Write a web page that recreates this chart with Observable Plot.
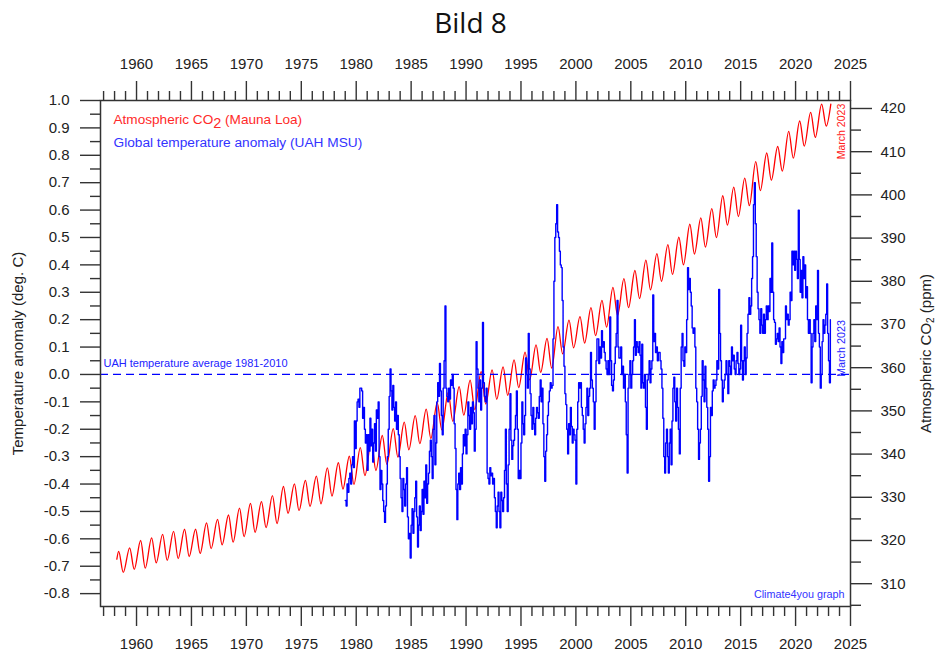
<!DOCTYPE html>
<html><head><meta charset="utf-8">
<script src="https://cdn.jsdelivr.net/npm/d3@7"></script>
<script src="https://cdn.jsdelivr.net/npm/@observablehq/plot@0.6"></script>
<style>
body{margin:0;background:#fff;font-family:"Liberation Sans",Arial,sans-serif;}
#wrap{position:relative;width:941px;height:653px;overflow:hidden;}
#title{position:absolute;left:0;top:0;width:941px;height:44px;text-align:center;font-family:"Open Sans",sans-serif;font-size:28px;line-height:44px;color:#111;}
#chart{position:absolute;left:0;top:40px;width:941px;height:613px;}
#chart svg{position:absolute;left:0;top:0;}
</style></head><body>
<div id="wrap"><div id="title">Bild 8</div><div id="chart"></div></div>
<script>
// ---------- data ----------
// x-axis tick labels (years)
const yearTicks = [1960,1965,1970,1975,1980,1985,1990,1995,2000,2005,2010,2015,2020,2025];
// left axis tick labels (deg C)
const tempTicks = [1.0,0.9,0.8,0.7,0.6,0.5,0.4,0.3,0.2,0.1,0.0,-0.1,-0.2,-0.3,-0.4,-0.5,-0.6,-0.7,-0.8];
// right axis tick labels (ppm)
const co2Ticks = [310,320,330,340,350,360,370,380,390,400,410,420];

// UAH MSU global temperature anomaly, monthly from Jan 1979 to Mar 2023
const tempStart = 1979;
const tempAnomaly = [
 -0.46,-0.48,-0.40,-0.43,-0.38,-0.36,-0.40,-0.33,-0.30,-0.34,-0.17,-0.27, // 1979
 -0.17,-0.10,-0.09,-0.12,-0.05,-0.05,-0.06,-0.16,-0.12,-0.20,-0.25,-0.22, // 1980
 -0.35,-0.22,-0.28,-0.16,-0.26,-0.20,-0.32,-0.25,-0.18,-0.28,-0.13,-0.16, // 1981
 -0.10,-0.30,-0.42,-0.35,-0.40,-0.46,-0.50,-0.54,-0.48,-0.40,-0.30,-0.20, // 1982
 -0.08, 0.02,-0.06,-0.13,-0.04,-0.12,-0.17,-0.10,-0.20,-0.15,-0.22,-0.30, // 1983
 -0.38,-0.45,-0.50,-0.38,-0.42,-0.48,-0.40,-0.34,-0.52,-0.60,-0.58,-0.67, // 1984
 -0.55,-0.49,-0.58,-0.50,-0.45,-0.39,-0.52,-0.63,-0.55,-0.48,-0.57,-0.50, // 1985
 -0.42,-0.51,-0.39,-0.45,-0.33,-0.47,-0.40,-0.36,-0.28,-0.24,-0.30,-0.38, // 1986
 -0.20,-0.15,-0.33,-0.25,-0.10,-0.03,-0.08, 0.04,-0.06,-0.15,-0.22,-0.05, // 1987
  0.05, 0.25,-0.05,-0.08,-0.10,-0.05,-0.09,-0.02,-0.04, 0.00,-0.05,-0.18, // 1988
 -0.27,-0.42,-0.53,-0.40,-0.36,-0.42,-0.34,-0.40,-0.29,-0.22,-0.26,-0.20, // 1989
 -0.29,-0.22,-0.10,-0.15,-0.20,-0.12,-0.18,-0.10,-0.14,-0.28,-0.20, 0.12, // 1990
  0.02,-0.05,-0.10,-0.02,-0.13,-0.05, 0.19,-0.03,-0.08,-0.10,-0.05,-0.36, // 1991
 -0.38,-0.40,-0.34,-0.37,-0.36,-0.40,-0.38,-0.45,-0.50,-0.56,-0.48,-0.43, // 1992
 -0.50,-0.56,-0.43,-0.46,-0.50,-0.45,-0.35,-0.20,-0.40,-0.50,-0.33,-0.20, // 1993
 -0.07,-0.24,-0.31,-0.26,-0.24,-0.20,-0.15,-0.06,-0.20,-0.38,-0.35,-0.38, // 1994
 -0.25,-0.10,-0.18,-0.22,-0.15, 0.06, 0.00,-0.05, 0.15, 0.02,-0.07,-0.15, // 1995
 -0.20,-0.12,-0.18,-0.22,-0.16,-0.12,-0.14,-0.16,-0.08,-0.02,-0.10,-0.05, // 1996
 -0.18,-0.30,-0.39,-0.28,-0.22,-0.15,-0.10,-0.06,-0.03,-0.05,-0.04, 0.13, // 1997
  0.34, 0.50, 0.55, 0.62, 0.52, 0.50, 0.45, 0.40, 0.39, 0.27, 0.10, 0.03, // 1998
 -0.07,-0.11,-0.20,-0.29,-0.18,-0.22,-0.12,-0.19,-0.25,-0.20,-0.22,-0.24, // 1999
 -0.40,-0.20,-0.10,-0.03,-0.05,-0.03,-0.12,-0.15,-0.20,-0.25,-0.18,-0.12, // 2000
 -0.05,-0.15,-0.08,-0.05, 0.08,-0.02,-0.05,-0.10,-0.20,-0.10, 0.05, 0.13, // 2001
  0.13, 0.04, 0.10, 0.06, 0.16, 0.10, 0.12, 0.08, 0.05, 0.02, 0.00, 0.05, // 2002
  0.00, 0.21, 0.05,-0.04,-0.06,-0.02, 0.04, 0.10, 0.15, 0.27, 0.10, 0.06, // 2003
  0.06, 0.10, 0.00, 0.03,-0.05, 0.00,-0.10,-0.22,-0.36,-0.05, 0.00, 0.05, // 2004
 -0.05, 0.00, 0.05, 0.10, 0.20, 0.07, 0.12, 0.10, 0.08, 0.12, 0.07,-0.05, // 2005
  0.11,-0.03,-0.05, 0.00,-0.12,-0.20,-0.02, 0.00, 0.05,-0.03, 0.02, 0.05, // 2006
  0.29, 0.12, 0.15, 0.08, 0.10, 0.05, 0.08, 0.08, 0.05, 0.02,-0.05,-0.16, // 2007
 -0.30,-0.36,-0.25,-0.20,-0.30,-0.36,-0.25,-0.20,-0.33,-0.17,-0.05,-0.01, // 2008
 -0.10,-0.17,-0.05,-0.12,-0.20,-0.29,-0.05, 0.10, 0.15, 0.05, 0.03, 0.10, // 2009
  0.08, 0.20, 0.39, 0.31, 0.35, 0.30, 0.25, 0.17, 0.15, 0.17, 0.10,-0.05, // 2010
 -0.10,-0.20,-0.31,-0.25,-0.20,-0.08, 0.05,-0.02,-0.10, 0.03,-0.05,-0.12, // 2011
 -0.20,-0.39,-0.30,-0.12,-0.15,-0.06,-0.02,-0.05,-0.04,-0.02, 0.05, 0.02, // 2012
  0.31, 0.15, 0.05,-0.02,-0.10,-0.05,-0.02, 0.00, 0.05, 0.00,-0.07, 0.05, // 2013
  0.03, 0.00, 0.10, 0.05, 0.07, 0.02, 0.00, 0.05, 0.08, 0.04, 0.00, 0.02, // 2014
  0.18, 0.05,-0.02, 0.05, 0.10, 0.00, 0.06, 0.15, 0.22, 0.28, 0.22, 0.25, // 2015
  0.35, 0.43, 0.62, 0.70, 0.55, 0.43, 0.30, 0.24, 0.20, 0.15, 0.24, 0.18, // 2016
  0.15, 0.22, 0.15, 0.20, 0.25, 0.20, 0.25, 0.23, 0.35, 0.30, 0.48, 0.30, // 2017
  0.20, 0.19, 0.11, 0.13, 0.15, 0.12, 0.17, 0.10, 0.04, 0.12, 0.08, 0.13, // 2018
  0.13, 0.25, 0.20, 0.22, 0.18, 0.20, 0.30, 0.27, 0.45, 0.40, 0.45, 0.38, // 2019
  0.45, 0.42, 0.35, 0.60, 0.42, 0.30, 0.38, 0.28, 0.43, 0.35, 0.40, 0.28, // 2020
  0.32, 0.20, 0.15, 0.20, 0.15,-0.03, 0.10, 0.15, 0.20, 0.12, 0.25, 0.20, // 2021
  0.38, 0.15, 0.10,-0.05, 0.00, 0.12, 0.20, 0.15, 0.18, 0.22, 0.33, 0.15, // 2022
  0.05,-0.03, 0.20                                                         // 2023
];

// Mauna Loa CO2 (ppm): seasonal maximum (May) and minimum (Oct) per year
const co2Years = [1958,1959,1960,1961,1962,1963,1964,1965,1966,1967,1968,1969,1970,1971,1972,1973,1974,1975,1976,1977,1978,1979,1980,1981,1982,1983,1984,1985,1986,1987,1988,1989,1990,1991,1992,1993,1994,1995,1996,1997,1998,1999,2000,2001,2002,2003,2004,2005,2006,2007,2008,2009,2010,2011,2012,2013,2014,2015,2016,2017,2018,2019,2020,2021,2022];
const co2May = [317.5,318.3,320.0,320.6,321.4,322.1,322.6,322.6,324.1,324.9,325.9,327.5,328.6,329.0,330.4,332.5,333.1,333.9,334.9,336.8,338.0,339.5,341.5,343.0,344.3,345.9,347.4,348.9,350.4,351.9,354.3,355.6,357.1,359.1,359.5,360.2,361.8,363.6,365.3,366.8,369.5,371.0,371.8,373.9,375.6,378.6,380.6,382.5,384.9,386.4,388.5,390.2,393.2,394.7,396.8,399.8,401.8,403.9,407.7,409.7,411.2,414.7,417.1,419.1,421.0];
const co2Oct = [312.6,313.3,313.6,314.8,315.4,315.8,316.3,317.0,318.1,319.0,319.6,320.9,321.9,323.0,323.9,326.3,326.9,327.9,328.5,330.3,331.9,333.0,335.0,336.2,337.6,339.3,341.0,342.4,343.6,345.6,347.6,349.0,350.3,351.6,352.7,353.6,355.4,357.2,358.9,359.9,363.2,364.6,365.7,367.4,369.4,372.1,373.9,376.0,378.0,380.0,381.6,383.8,386.3,387.9,390.1,393.0,395.0,397.5,401.0,403.4,405.5,408.5,411.3,413.3,415.9];
const co2FirstMonth = {year: 1958, month: 3, value: 315.7};  // March 1958
const co2LastMonth  = {year: 2023, month: 3, value: 421.0};  // March 2023

// ---------- build tables ----------
const tempData = tempAnomaly.map((v, i) => ({t: tempStart + i / 12, v}));
const mt = (y, m) => y + (m - 0.5) / 12;
const co2Data = [{t: mt(co2FirstMonth.year, co2FirstMonth.month), v: co2FirstMonth.value}];
co2Years.forEach((y, i) => {
  co2Data.push({t: mt(y, 5), v: co2May[i]});
  co2Data.push({t: mt(y, 10), v: co2Oct[i]});
});
co2Data.push({t: mt(co2LastMonth.year, co2LastMonth.month), v: co2LastMonth.value});

// ---------- layout ----------
const W = 941, H = 613;
const margins = {marginTop: 60, marginRight: 91, marginBottom: 47, marginLeft: 100};
const xDomain = [1956.72, 2025];
const tempDomain = [-0.847, 1.0];
const co2Domain = [304.72, 421.85];
const font = "Liberation Sans, Arial, sans-serif";
const axisCol = "#333", textCol = "#222";
const minorYears = d3.range(1957, 2026).filter(y => y % 5 !== 0);
const minorTemp = d3.range(-15, 20, 2).map(k => k / 20);
const minorCo2 = d3.range(305, 421, 10);

const common = {width: W, height: H, ...margins, style: {background: "transparent", fontFamily: font, overflow: "visible"}};

const plotCo2 = Plot.plot({
  ...common,
  x: {domain: xDomain, axis: null},
  y: {domain: co2Domain},
  marks: [
    Plot.line(co2Data, {x: "t", y: "v", curve: "monotone-x", stroke: "#ff0000", strokeWidth: 1.3}),
    Plot.axisY({anchor: "right", ticks: co2Ticks, tickSize: 21, tickPadding: 9, fontSize: 15, stroke: axisCol, strokeWidth: 1.4, fill: textCol, tickFormat: d => String(d), label: null}),
    Plot.axisY({anchor: "right", ticks: minorCo2, tickSize: 10, stroke: axisCol, strokeWidth: 1.4, tickFormat: () => "", label: null}),
    Plot.text(["Atmospheric CO2 (ppm)"], {text: d => d, frameAnchor: "right", dx: 76, rotate: -90, textAnchor: "middle", lineAnchor: "middle", fontSize: 15, fill: textCol}),
    Plot.text(["March 2023"], {text: d => d, frameAnchor: "top-right", dx: -9, dy: 31, rotate: -90, textAnchor: "middle", lineAnchor: "middle", fontSize: 10.5, fill: "#ff2020"})
  ]
});

const plotTemp = Plot.plot({
  ...common,
  x: {domain: xDomain},
  y: {domain: tempDomain},
  marks: [
    Plot.ruleY([0], {stroke: "#0000ff", strokeWidth: 1.2, strokeDasharray: "8,5"}),
    Plot.line(tempData, {x: "t", y: "v", curve: "step-after", stroke: "#0000ff", strokeWidth: 1.4}),
    Plot.frame({stroke: axisCol, strokeWidth: 1.5}),
    Plot.axisX({anchor: "top", ticks: yearTicks, tickSize: 20, tickPadding: 12, fontSize: 15, stroke: axisCol, strokeWidth: 1.4, fill: textCol, tickFormat: d => String(d), label: null}),
    Plot.axisX({anchor: "top", ticks: minorYears, tickSize: 10, stroke: axisCol, strokeWidth: 1.4, tickFormat: () => "", label: null}),
    Plot.axisX({anchor: "bottom", ticks: yearTicks, tickSize: 20, tickPadding: 12, fontSize: 15, stroke: axisCol, strokeWidth: 1.4, fill: textCol, tickFormat: d => String(d), label: null}),
    Plot.axisX({anchor: "bottom", ticks: minorYears, tickSize: 10, stroke: axisCol, strokeWidth: 1.4, tickFormat: () => "", label: null}),
    Plot.axisY({anchor: "left", ticks: tempTicks, tickSize: 20, tickPadding: 11, fontSize: 15, stroke: axisCol, strokeWidth: 1.4, fill: textCol, tickFormat: d => d.toFixed(1), label: null}),
    Plot.axisY({anchor: "left", ticks: minorTemp, tickSize: 10, stroke: axisCol, strokeWidth: 1.4, tickFormat: () => "", label: null}),
    Plot.text(["Temperature anomaly (deg. C)"], {text: d => d, frameAnchor: "left", dx: -82, rotate: -90, textAnchor: "middle", lineAnchor: "middle", fontSize: 15, fill: textCol}),
    Plot.text(["Atmospheric CO2 (Mauna Loa)"], {text: d => d, frameAnchor: "top-left", dx: 13, dy: 19, textAnchor: "start", lineAnchor: "middle", fontSize: 13.6, fill: "#ff2a2a"}),
    Plot.text(["Global temperature anomaly (UAH MSU)"], {text: d => d, frameAnchor: "top-left", dx: 13, dy: 42, textAnchor: "start", lineAnchor: "middle", fontSize: 13.7, fill: "#3333ff"}),
    Plot.text(["UAH temperature average 1981-2010"], {text: d => d, y: () => 0, frameAnchor: "left", dx: 3, dy: -11, textAnchor: "start", lineAnchor: "middle", fontSize: 11, fill: "#2222ff"}),
    Plot.text(["March 2023"], {text: d => d, frameAnchor: "right", dx: -9, dy: -5, rotate: -90, textAnchor: "middle", lineAnchor: "middle", fontSize: 10.8, fill: "#2222ff"}),
    Plot.text(["Climate4you graph"], {text: d => d, frameAnchor: "bottom-right", dx: -6, dy: -12, textAnchor: "end", lineAnchor: "middle", fontSize: 10.8, fill: "#3333ff"})
  ]
});

// subscript the "2" of CO2
function subscriptCO2(svg) {
  d3.select(svg).selectAll("text").each(function () {
    if (this.childElementCount) return;
    const t = this.textContent;
    if (!t.includes("CO2")) return;
    const [a, b] = t.split("CO2");
    const big = t.includes("Mauna");
    const sel = d3.select(this);
    sel.text(null);
    sel.append("tspan").text(a + "CO");
    sel.append("tspan").attr("dy", big ? 4 : 3).attr("font-size", big ? 14.5 : 10).text("2");
    sel.append("tspan").attr("dy", big ? -4 : -3).text(b);
  });
}
subscriptCO2(plotCo2);
subscriptCO2(plotTemp);

const chart = document.getElementById("chart");
chart.appendChild(plotCo2);
chart.appendChild(plotTemp);
</script>
</body></html>
